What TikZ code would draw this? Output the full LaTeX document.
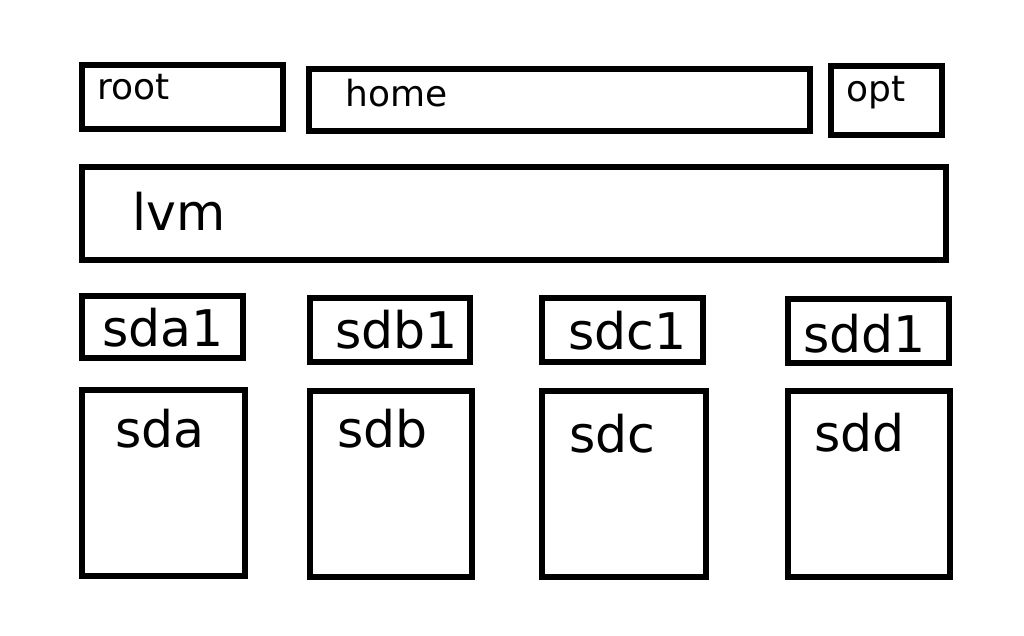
\documentclass[tikz,border=0pt]{standalone}
\usepackage{fontspec}
\setmainfont{DejaVu Sans}
\begin{document}
\begin{tikzpicture}[x=1pt,y=-1pt,
  box/.style={draw=black, line width=5.5pt, anchor=north west, inner sep=0pt, outer sep=0pt},
  big/.style={anchor=base west, inner sep=0pt, font=\fontsize{50.5}{60}\selectfont},
  small/.style={anchor=base west, inner sep=0pt, font=\fontsize{36}{43}\selectfont}]
\useasboundingbox[fill=white] (0,0) rectangle (1024,636);
% top row
\node[box, minimum width=201pt, minimum height=64pt] (root) at (82,65) {};
\node[small] (rootlbl) at (97,100) {root};
\node[box, minimum width=501pt, minimum height=62pt] (home) at (309,69) {};
\node[small] (homelbl) at (345,107) {home};
\node[box, minimum width=111pt, minimum height=69pt] (opt) at (831,66) {};
\node[small] (optlbl) at (846,102) {opt};
% lvm
\node[box, minimum width=864pt, minimum height=93pt] (lvm) at (82,167) {};
\node[big] (lvmlbl) at (132,230) {lvm};
% partitions
\node[box, minimum width=161pt, minimum height=62pt] (sda1) at (82,296) {};
\node[big] (sda1lbl) at (102,346) {sda1};
\node[box, minimum width=160pt, minimum height=64pt] (sdb1) at (310,298) {};
\node[big] (sdb1lbl) at (335,348) {sdb1};
\node[box, minimum width=161pt, minimum height=64pt] (sdc1) at (542,298) {};
\node[big] (sdc1lbl) at (568,349) {sdc1};
\node[box, minimum width=161pt, minimum height=64pt] (sdd1) at (788,299) {};
\node[big] (sdd1lbl) at (803,352) {sdd1};
% disks
\node[box, minimum width=163pt, minimum height=186pt] (sda) at (82,390) {};
\node[big] (sdalbl) at (115,447) {sda};
\node[box, minimum width=162pt, minimum height=186pt] (sdb) at (310,391) {};
\node[big] (sdblbl) at (337,447) {sdb};
\node[box, minimum width=164pt, minimum height=186pt] (sdc) at (542,391) {};
\node[big] (sdclbl) at (569,452) {sdc};
\node[box, minimum width=162pt, minimum height=186pt] (sdd) at (788,391) {};
\node[big] (sddlbl) at (814,451) {sdd};
\end{tikzpicture}
\end{document}
